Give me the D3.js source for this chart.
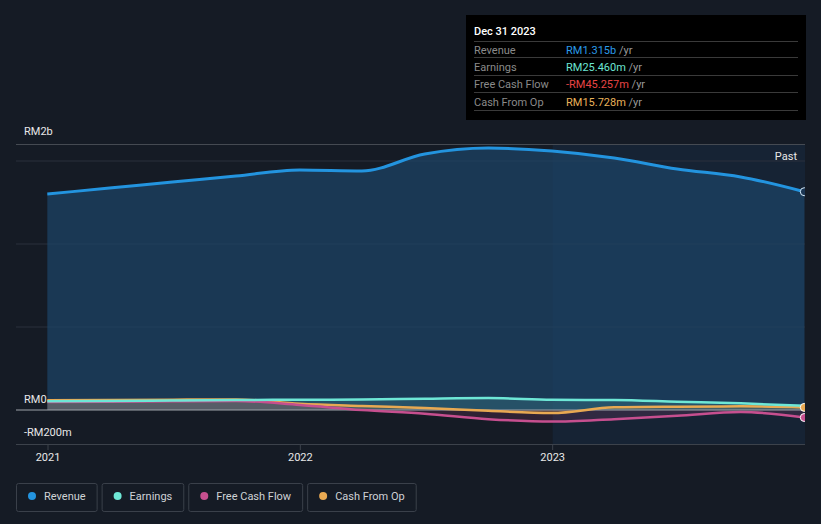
<!DOCTYPE html>
<html>
<head>
<meta charset="utf-8">
<script src="https://cdn.jsdelivr.net/npm/d3@7"></script>
<style>
  body { margin: 0; background: #151b25; }
  svg { display: block; font-family: Roboto, "Open Sans", sans-serif; }
</style>
</head>
<body>
<svg width="821" height="524"></svg>
<script>
// quarterly periods (trailing twelve months), values in RM millions
var dates = ["2020-12-31","2021-03-31","2021-06-30","2021-09-30","2021-12-31","2022-03-31","2022-06-30",
             "2022-09-30","2022-12-31","2023-03-31","2023-06-30","2023-09-30","2023-12-31"];
var revenue    = [1301, 1337, 1373, 1410, 1446, 1440, 1542, 1578, 1560, 1518, 1452, 1404, 1315];
var earnings   = [52, 54, 57, 60, 62, 63, 68, 72, 62, 60, 50, 40, 25.46];
var freeCash   = [48, 50, 52, 54, 30, 0, -22, -55, -70, -55, -35, -12, -45.257];
var cashFromOp = [58, 60, 62, 64, 38, 24, 12, -5, -18, 16, 20, 22, 15.728];

var yearTicks = ["2021", "2022", "2023"];
var yLabels = [{v: 1600, t: "RM2b"}, {v: 0, t: "RM0"}, {v: -200, t: "-RM200m"}];

var series = [
  {name: "Revenue", values: revenue, color: "#2394df", width: 3},
  {name: "Earnings", values: earnings, color: "#6ee7d6", width: 2.5},
  {name: "Free Cash Flow", values: freeCash, color: "#c64f8f", width: 2.5},
  {name: "Cash From Op", values: cashFromOp, color: "#e8a952", width: 2.5}
];

var tooltipRows = [
  {label: "Revenue", value: "RM1.315b", color: "#2a9be8"},
  {label: "Earnings", value: "RM25.460m", color: "#6ce5d3"},
  {label: "Free Cash Flow", value: "-RM45.257m", color: "#e84545"},
  {label: "Cash From Op", value: "RM15.728m", color: "#e9b25a"}
];

var svg = d3.select("svg");
var parse = d3.timeParse("%Y-%m-%d");
var dt = dates.map(parse);

var x = d3.scaleTime()
    .domain([parse("2021-01-01"), parse("2024-01-01")])
    .range([48, 805]);
var y = d3.scaleLinear().domain([-200, 1600]).range([443.2, 144.4]);

var left = 16, right = 805;

// highlighted last year
svg.append("rect")
    .attr("x", x(parse("2023-01-01"))).attr("y", 144)
    .attr("width", right - x(parse("2023-01-01"))).attr("height", 300)
    .attr("fill", "#1c4a78").attr("opacity", 0.18);

// grid
[500, 1000, 1500].forEach(function(v){
  svg.append("line").attr("x1", left).attr("x2", right)
    .attr("y1", y(v)).attr("y2", y(v))
    .attr("stroke", "#2a313c").attr("stroke-width", 1);
});
svg.append("line").attr("x1", left).attr("x2", right).attr("y1", 144.5).attr("y2", 144.5)
    .attr("stroke", "#454a52");

// areas
series.forEach(function(s, i){
  var area = d3.area()
      .x(function(d, j){ return x(dt[j]) })
      .y0(y(0))
      .y1(function(d){ return y(d) })
      .curve(d3.curveMonotoneX);
  svg.append("path")
      .datum(s.values)
      .attr("d", area)
      .attr("fill", i == 0 ? "#1d4468" : s.color)
      .attr("opacity", i == 0 ? 0.7 : 0.15);
});

// zero line & x axis line
svg.append("line").attr("x1", left).attr("x2", right).attr("y1", y(0)).attr("y2", y(0))
    .attr("stroke", "#9ea3aa").attr("stroke-width", 1);
svg.append("line").attr("x1", left).attr("x2", right).attr("y1", 444.5).attr("y2", 444.5)
    .attr("stroke", "#3c424b");

// lines
series.slice().reverse().forEach(function(s){
  var line = d3.line()
      .x(function(d, j){ return x(dt[j]) })
      .y(function(d){ return y(d) })
      .curve(d3.curveMonotoneX);
  svg.append("path")
      .datum(s.values)
      .attr("d", line)
      .attr("fill", "none")
      .attr("stroke", s.color)
      .attr("stroke-width", s.width);
});

// end markers
series.forEach(function(s){
  if (s.name == "Earnings") return;
  var v = s.values[s.values.length - 1];
  svg.append("circle")
      .attr("cx", x(dt[dt.length - 1])).attr("cy", y(v)).attr("r", 4)
      .attr("fill", s.name == "Revenue" ? "#1b3552" : s.color)
      .attr("stroke", s.name == "Revenue" ? "#d8ecfb" : "#ffffff")
      .attr("stroke-width", 1);
});

// mask beyond plot
svg.append("rect").attr("x", 805).attr("y", 130).attr("width", 16).attr("height", 330).attr("fill", "#151b25");

// x ticks
yearTicks.forEach(function(t){
  var xx = x(parse(t + "-01-01"));
  svg.append("line").attr("x1", xx).attr("x2", xx).attr("y1", 444).attr("y2", 450)
      .attr("stroke", "#3c424b");
  svg.append("text").attr("x", xx).attr("y", 461).attr("text-anchor", "middle")
      .attr("fill", "#e8e8e8").attr("font-size", 11).text(t);
});

// y labels
svg.append("text").attr("x", 24).attr("y", 135).attr("fill", "#e8e8e8").attr("font-size", 11).text(yLabels[0].t);
svg.append("text").attr("x", 24).attr("y", y(0) - 7).attr("fill", "#e8e8e8").attr("font-size", 11).text(yLabels[1].t);
svg.append("text").attr("x", 24).attr("y", 436).attr("fill", "#e8e8e8").attr("font-size", 11).text(yLabels[2].t);

svg.append("text").attr("x", 797).attr("y", 160).attr("text-anchor", "end")
    .attr("fill", "#e8e8e8").attr("font-size", 11).text("Past");

// tooltip
var tip = svg.append("g");
tip.append("rect").attr("x", 466).attr("y", 15).attr("width", 340).attr("height", 105).attr("fill", "#000");
tip.append("text").attr("x", 474).attr("y", 35).attr("fill", "#ffffff").attr("font-size", 11)
    .attr("font-weight", 500).text("Dec 31 2023");
var sepY = [41.5, 57.5, 75.5, 92.5, 110.5];
sepY.forEach(function(yy){
  tip.append("line").attr("x1", 474).attr("x2", 798).attr("y1", yy).attr("y2", yy)
      .attr("stroke", "#3a3a3a");
});
tooltipRows.forEach(function(r, i){
  var yy = (sepY[i] + sepY[i + 1]) / 2 + 4;
  tip.append("text").attr("x", 474).attr("y", yy).attr("fill", "#8a8a8a").attr("font-size", 11).text(r.label);
  var t = tip.append("text").attr("x", 566).attr("y", yy).attr("font-size", 11);
  t.append("tspan").attr("fill", r.color).text(r.value);
  t.append("tspan").attr("fill", "#9a9a9a").text(" /yr");
});

// legend
var lx = 16;
series.forEach(function(s){
  var g = svg.append("g");
  var txt = g.append("text").attr("x", lx + 28).attr("y", 500).attr("fill", "#cfd2d6")
      .attr("font-size", 11).text(s.name);
  var w = txt.node().getComputedTextLength() + 39;
  g.insert("rect", "text").attr("x", lx + 0.5).attr("y", 483.5).attr("width", w).attr("height", 28)
      .attr("rx", 2).attr("fill", "none").attr("stroke", "#3a404a");
  g.append("circle").attr("cx", lx + 16).attr("cy", 496).attr("r", 4).attr("fill", s.color);
  lx += w + 5;
});
</script>
</body>
</html>
